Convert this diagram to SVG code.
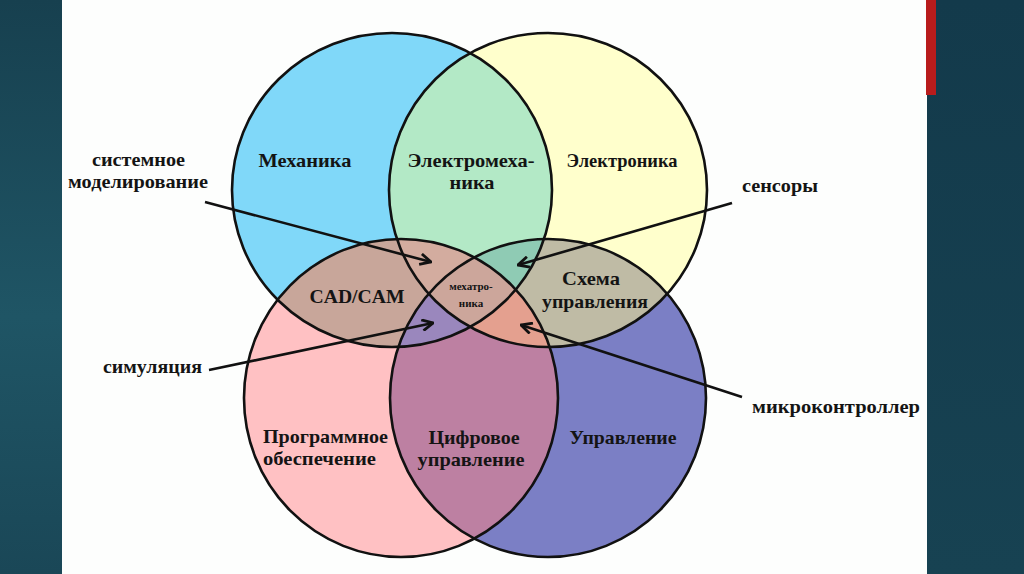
<svg xmlns="http://www.w3.org/2000/svg" width="1024" height="574" viewBox="0 0 1024 574">
  <defs>
    <linearGradient id="bandL" x1="0" y1="0" x2="0" y2="1">
      <stop offset="0" stop-color="#17404f"/>
      <stop offset="0.55" stop-color="#1f5565"/>
      <stop offset="1" stop-color="#1a4757"/>
    </linearGradient>
    <linearGradient id="bandR" x1="0" y1="0" x2="0" y2="1">
      <stop offset="0" stop-color="#133a4b"/>
      <stop offset="1" stop-color="#174252"/>
    </linearGradient>
    <clipPath id="cB"><ellipse cx="392" cy="190" rx="160" ry="157"/></clipPath>
    <clipPath id="cY"><ellipse cx="548" cy="190" rx="159" ry="157"/></clipPath>
    <clipPath id="cP"><ellipse cx="401" cy="398" rx="157" ry="159"/></clipPath>
    <clipPath id="cV"><ellipse cx="548" cy="398" rx="158" ry="159"/></clipPath>
    <marker id="arr" viewBox="0 0 12 12" refX="11" refY="6" markerWidth="13" markerHeight="13" markerUnits="userSpaceOnUse" orient="auto">
      <path d="M1,1 L11,6 L1,11" fill="none" stroke="#111" stroke-width="2.6" stroke-linejoin="miter"/>
    </marker>
    <style>
      .lbl{font-family:"Liberation Serif","Times New Roman",serif;font-weight:bold;font-size:19px;fill:#141414;text-anchor:middle}
      .side{font-family:"Liberation Serif","Times New Roman",serif;font-weight:bold;font-size:19px;fill:#141414}
      .small{font-family:"Liberation Serif","Times New Roman",serif;font-weight:bold;font-size:11px;fill:#141414;text-anchor:middle}
      .outline{fill:none;stroke:#111;stroke-width:2.6}
      .conn{fill:none;stroke:#111;stroke-width:2.6;marker-end:url(#arr)}
    </style>
  </defs>

  <g id="background">
    <rect x="0" y="0" width="1024" height="574" fill="#fdfefd"/>
    <rect x="0" y="0" width="62" height="574" fill="url(#bandL)"/>
    <rect x="927" y="0" width="97" height="574" fill="url(#bandR)"/>
    <rect x="926" y="0" width="10" height="95" fill="#b81c1c"/>
  </g>

  <g id="regions">
    <ellipse cx="392" cy="190" rx="160" ry="157" fill="#80d8f9"/>
    <ellipse cx="548" cy="190" rx="159" ry="157" fill="#ffffcc"/>
    <ellipse cx="401" cy="398" rx="157" ry="159" fill="#ffc1c3"/>
    <ellipse cx="548" cy="398" rx="158" ry="159" fill="#7b7fc5"/>
    <g clip-path="url(#cB)"><ellipse cx="548" cy="190" rx="159" ry="157" fill="#b3e9c6"/></g>
    <g clip-path="url(#cB)"><ellipse cx="401" cy="398" rx="157" ry="159" fill="#c8a69a"/></g>
    <g clip-path="url(#cB)"><ellipse cx="548" cy="398" rx="158" ry="159" fill="#9a87bd"/></g>
    <g clip-path="url(#cY)"><ellipse cx="401" cy="398" rx="157" ry="159" fill="#e4a08f"/></g>
    <g clip-path="url(#cY)"><ellipse cx="548" cy="398" rx="158" ry="159" fill="#bfbba5"/></g>
    <g clip-path="url(#cP)"><ellipse cx="548" cy="398" rx="158" ry="159" fill="#bd80a2"/></g>
    <g clip-path="url(#cB)"><g clip-path="url(#cY)"><ellipse cx="401" cy="398" rx="157" ry="159" fill="#d3ac9f"/></g></g>
    <g clip-path="url(#cB)"><g clip-path="url(#cY)"><ellipse cx="548" cy="398" rx="158" ry="159" fill="#8fcbb4"/></g></g>
    <g clip-path="url(#cB)"><g clip-path="url(#cP)"><ellipse cx="548" cy="398" rx="158" ry="159" fill="#9a87bd"/></g></g>
    <g clip-path="url(#cY)"><g clip-path="url(#cP)"><ellipse cx="548" cy="398" rx="158" ry="159" fill="#e4a08f"/></g></g>
    <g clip-path="url(#cB)"><g clip-path="url(#cY)"><g clip-path="url(#cP)"><ellipse cx="548" cy="398" rx="158" ry="159" fill="#cca69b"/></g></g></g>
  </g>

  <g id="outlines">
    <ellipse class="outline" cx="392" cy="190" rx="160" ry="157"/>
    <ellipse class="outline" cx="548" cy="190" rx="159" ry="157"/>
    <ellipse class="outline" cx="401" cy="398" rx="157" ry="159"/>
    <ellipse class="outline" cx="548" cy="398" rx="158" ry="159"/>
  </g>

  <g id="connectors">
    <line class="conn" x1="205" y1="202" x2="431" y2="262"/>
    <line class="conn" x1="732" y1="203" x2="518" y2="265"/>
    <line class="conn" x1="209" y1="370" x2="433" y2="323"/>
    <line class="conn" x1="742" y1="397" x2="521" y2="325"/>
  </g>

  <g id="node-mechanics"><text class="lbl" x="305" y="167" textLength="93" lengthAdjust="spacingAndGlyphs">Механика</text></g>
  <g id="node-electromechanics">
    <text class="lbl" x="471" y="167" textLength="127" lengthAdjust="spacingAndGlyphs">Электромеха-</text>
    <text class="lbl" x="472" y="189" textLength="45" lengthAdjust="spacingAndGlyphs">ника</text>
  </g>
  <g id="node-electronics"><text class="lbl" x="622" y="167" textLength="111" lengthAdjust="spacingAndGlyphs">Электроника</text></g>
  <g id="node-cadcam"><text class="lbl" x="357" y="303" textLength="95" lengthAdjust="spacingAndGlyphs">CAD/CAM</text></g>
  <g id="node-mechatronics">
    <text class="small" x="471" y="290">мехатро-</text>
    <text class="small" x="471" y="307">ника</text>
  </g>
  <g id="node-control-scheme">
    <text class="lbl" x="591" y="285" textLength="58" lengthAdjust="spacingAndGlyphs">Схема</text>
    <text class="lbl" x="595" y="308" textLength="106" lengthAdjust="spacingAndGlyphs">управления</text>
  </g>
  <g id="node-software">
    <text class="lbl" x="263" y="443" style="text-anchor:start" textLength="125" lengthAdjust="spacingAndGlyphs">Программное</text>
    <text class="lbl" x="263" y="465" style="text-anchor:start" textLength="113" lengthAdjust="spacingAndGlyphs">обеспечение</text>
  </g>
  <g id="node-digital-control">
    <text class="lbl" x="474" y="444" textLength="91" lengthAdjust="spacingAndGlyphs">Цифровое</text>
    <text class="lbl" x="471" y="466" textLength="107" lengthAdjust="spacingAndGlyphs">управление</text>
  </g>
  <g id="node-control"><text class="lbl" x="623" y="444" textLength="107" lengthAdjust="spacingAndGlyphs">Управление</text></g>

  <g id="node-system-modeling">
    <text class="side" x="92" y="166" textLength="93" lengthAdjust="spacingAndGlyphs">системное</text>
    <text class="side" x="68" y="188" textLength="140" lengthAdjust="spacingAndGlyphs">моделирование</text>
  </g>
  <g id="node-sensors"><text class="side" x="742" y="192" textLength="76" lengthAdjust="spacingAndGlyphs">сенсоры</text></g>
  <g id="node-simulation"><text class="side" x="103" y="373" textLength="99" lengthAdjust="spacingAndGlyphs">симуляция</text></g>
  <g id="node-microcontroller"><text class="side" x="752" y="413" textLength="168" lengthAdjust="spacingAndGlyphs">микроконтроллер</text></g>
</svg>
